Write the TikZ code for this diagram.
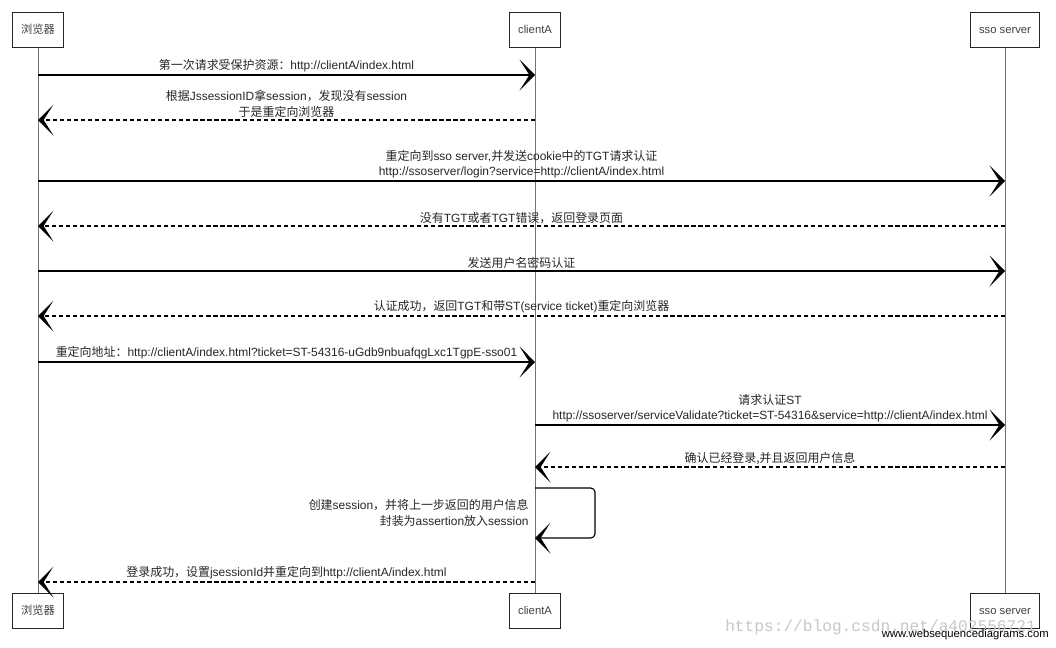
\documentclass[tikz,border=0pt]{standalone}
\usepackage{fontspec}
\setmainfont{Liberation Sans}
\newfontfamily\cjk{Noto Sans CJK SC}
\newfontfamily\wmfont{Liberation Mono}
\usetikzlibrary{arrows.meta,calc,positioning}
\tikzset{%
	actor/.style    = {draw=black!85, line width=0.7pt, fill=white, minimum height=25pt, inner xsep=6pt, text height=6.5pt, text depth=1.5pt, text=black!75, font=\fontsize{8}{10}\selectfont},
	lifeline/.style = {draw=black!55, line width=0.5pt},
	call/.style     = {draw=black, line width=0.8pt, -{Stealth[length=11pt,width=22pt,inset=7pt]}}, % request
	reply/.style    = {call, dash pattern=on 3pt off 2pt}, % answer
	msg/.style      = {font=\fontsize{8.5}{11}\selectfont, align=center, text=black!85, inner sep=1.5pt},
}
\newcommand{\zh}[1]{{\cjk #1}}

\begin{document}
\begin{tikzpicture}[x=0.025cm, y=-0.025cm]
	\useasboundingbox (0,0) rectangle (1056,647);
	% participants
	\node[actor] (bT) at (38,30) {\zh{浏览器}};
	\node[actor] (cT) at (535,30) {clientA};
	\node[actor] (sT) at (1005,30) {sso server};
	\node[actor] (bB) at (38,611) {\zh{浏览器}};
	\node[actor] (cB) at (535,611) {clientA};
	\node[actor] (sB) at (1005,611) {sso server};
	\draw[lifeline] (bT) -- (bB);
	\draw[lifeline] (cT) -- (cB);
	\draw[lifeline] (sT) -- (sB);
	% message rows
	\coordinate (m1) at (0,75);
	\coordinate (m2) at (0,120);
	\coordinate (m3) at (0,181);
	\coordinate (m4) at (0,226);
	\coordinate (m5) at (0,271);
	\coordinate (m6) at (0,316);
	\coordinate (m7) at (0,362);
	\coordinate (m8) at (0,425);
	\coordinate (m9) at (0,467);
	\coordinate (s1) at (0,488);
	\coordinate (s2) at (0,538);
	\coordinate (m11) at (0,582);
	\draw[call] (bT |- m1) -- node[msg, above] {\zh{第一次请求受保护资源：}http://clientA/index.html} (cT |- m1);
	\draw[reply] (cT |- m2) -- node[msg, above] {\zh{根据}JssessionID\zh{拿}session\zh{，发现没有}session\\\zh{于是重定向浏览器}} (bT |- m2);
	\draw[call] (bT |- m3) -- node[msg, above] {\zh{重定向到}sso server,\zh{并发送}cookie\zh{中的}TGT\zh{请求认证}\\http://ssoserver/login?service=http://clientA/index.html} (sT |- m3);
	\draw[reply] (sT |- m4) -- node[msg, above] {\zh{没有}TGT\zh{或者}TGT\zh{错误，返回登录页面}} (bT |- m4);
	\draw[call] (bT |- m5) -- node[msg, above] {\zh{发送用户名密码认证}} (sT |- m5);
	\draw[reply] (sT |- m6) -- node[msg, above] {\zh{认证成功，返回}TGT\zh{和带}ST(service ticket)\zh{重定向浏览器}} (bT |- m6);
	\draw[call] (bT |- m7) -- node[msg, above] {\zh{重定向地址：}http://clientA/index.html?ticket=ST-54316-uGdb9nbuafqgLxc1TgpE-sso01} (cT |- m7);
	\draw[call] (cT |- m8) -- node[msg, above] {\zh{请求认证}ST\\http://ssoserver/serviceValidate?ticket=ST-54316\&service=http://clientA/index.html} (sT |- m8);
	\draw[reply] (sT |- m9) -- node[msg, above] {\zh{确认已经登录,并且返回用户信息}} (cT |- m9);
	\draw[call, rounded corners=3pt] (cT |- s1) -- ++(60,0) |- (cT |- s2);
	\node[msg, anchor=east, align=right] (selfmsg) at (531,513) {\zh{创建}session\zh{，并将上一步返回的用户信息}\\\zh{封装为}assertion\zh{放入}session};
	\draw[reply] (cT |- m11) -- node[msg, above] {\zh{登录成功，设置}jsessionId\zh{并重定向到}http://clientA/index.html} (bT |- m11);
	% footer
	\node[anchor=west, text=black!22, font=\wmfont\fontsize{11.5}{12}\selectfont, inner sep=0pt] (wm) at (725,627) {https://blog.csdn.net/a402556721};
	\node[anchor=east, font=\fontsize{8}{10}\selectfont, inner sep=0pt] (site) at (1049,635) {www.websequencediagrams.com};
\end{tikzpicture}
\end{document}
